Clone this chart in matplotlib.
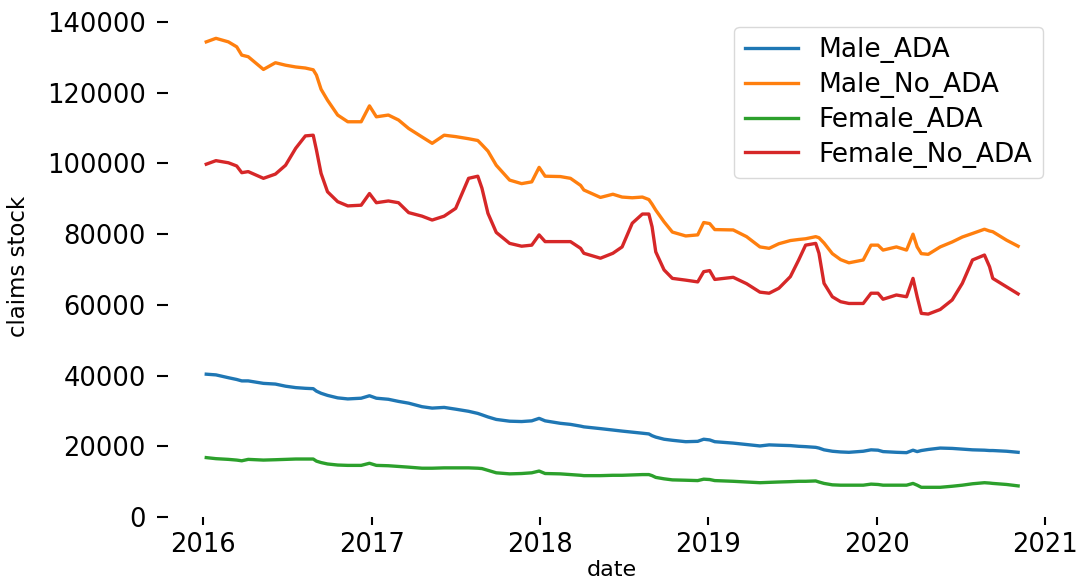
import matplotlib
matplotlib.use("Agg")
import matplotlib.pyplot as plt
import matplotlib.dates as mdates
import pandas as pd

# claims stock snapshots by gender / ADA status
dates = [
    "2016-01-08", "2016-01-29", "2016-02-25", "2016-03-14", "2016-03-25", "2016-04-08",
    "2016-05-11", "2016-06-06", "2016-06-28", "2016-07-20", "2016-08-10", "2016-08-27",
    "2016-09-03", "2016-09-13", "2016-09-27", "2016-10-19", "2016-11-10", "2016-12-09",
    "2016-12-27", "2017-01-11", "2017-02-06", "2017-02-28", "2017-03-22", "2017-04-20",
    "2017-05-12", "2017-06-07", "2017-07-02", "2017-07-30", "2017-08-19", "2017-08-28",
    "2017-09-10", "2017-09-28", "2017-10-27", "2017-11-22", "2017-12-14", "2017-12-30",
    "2018-01-12", "2018-02-14", "2018-03-08", "2018-03-30", "2018-04-06", "2018-05-12",
    "2018-06-08", "2018-06-28", "2018-07-20", "2018-08-11", "2018-08-25", "2018-09-01",
    "2018-09-09", "2018-09-27", "2018-10-15", "2018-11-13", "2018-12-09", "2018-12-22",
    "2019-01-04", "2019-01-15", "2019-02-24", "2019-03-25", "2019-04-23", "2019-05-13",
    "2019-06-03", "2019-06-28", "2019-07-16", "2019-07-31", "2019-08-22", "2019-08-29",
    "2019-09-09", "2019-09-27", "2019-10-15", "2019-11-02", "2019-12-03", "2019-12-20",
    "2020-01-04", "2020-01-15", "2020-02-13", "2020-03-06", "2020-03-20", "2020-03-29",
    "2020-04-07", "2020-04-22", "2020-05-18", "2020-06-13", "2020-07-05", "2020-07-27",
    "2020-08-22", "2020-09-02", "2020-09-09", "2020-10-09", "2020-11-03",
]

male_ada = [
    40400, 40200, 39400, 38900, 38500, 38500, 37800, 37600, 37000, 36600, 36400, 36300,
    35600, 35000, 34400, 33700, 33400, 33600, 34300, 33600, 33300, 32700, 32200, 31200,
    30800, 31000, 30500, 29900, 29300, 28900, 28300, 27600, 27100, 27000, 27200, 27900,
    27200, 26500, 26200, 25700, 25500, 25000, 24600, 24300, 24000, 23700, 23500, 23000,
    22600, 22000, 21700, 21300, 21400, 22000, 21800, 21300, 20900, 20500, 20100, 20400,
    20300, 20200, 20000, 19900, 19700, 19500, 19000, 18600, 18400, 18300, 18600, 19000,
    18900, 18500, 18300, 18200, 18900, 18500, 18800, 19100, 19500, 19400, 19200, 19000,
    18900, 18800, 18800, 18600, 18300,
]

male_no_ada = [
    134400, 135400, 134400, 133000, 130650, 130200, 126600, 128500, 127800, 127300, 127000, 126500,
    125000, 121000, 117900, 113700, 111800, 111800, 116300, 113200, 113700, 112300, 109900, 107500,
    105700, 108000, 107600, 107000, 106500, 105300, 103500, 99500, 95300, 94300, 94800, 98900,
    96400, 96300, 95800, 93800, 92500, 90400, 91300, 90500, 90300, 90500, 89800, 88500,
    86800, 83500, 80600, 79500, 79800, 83300, 83000, 81300, 81200, 79300, 76400, 76000,
    77300, 78200, 78500, 78700, 79300, 79000, 77500, 74500, 72800, 71900, 72700, 76900,
    76900, 75500, 76400, 75500, 80000, 76400, 74500, 74300, 76400, 77800, 79200, 80200,
    81400, 80900, 80700, 78300, 76600,
]

female_ada = [
    16800, 16500, 16300, 16100, 15900, 16300, 16100, 16200, 16300, 16400, 16400, 16400,
    15800, 15400, 15000, 14700, 14600, 14600, 15200, 14600, 14500, 14300, 14100, 13800,
    13800, 13900, 13900, 13900, 13800, 13700, 13200, 12500, 12200, 12300, 12500, 13000,
    12300, 12200, 12000, 11800, 11700, 11700, 11800, 11800, 11900, 12000, 12000, 11700,
    11200, 10800, 10500, 10400, 10300, 10700, 10600, 10300, 10100, 9900, 9700, 9800,
    9900, 10000, 10100, 10100, 10200, 9900, 9500, 9100, 9000, 9000, 9000, 9300,
    9200, 9000, 9000, 9000, 9500, 9000, 8400, 8400, 8400, 8700, 9000, 9400,
    9700, 9600, 9500, 9200, 8800,
]

female_no_ada = [
    99800, 100800, 100200, 99300, 97400, 97700, 95800, 97000, 99500, 104300, 107800, 108000,
    103800, 97200, 92000, 89200, 88000, 88200, 91500, 88900, 89400, 88900, 86100, 85100,
    84000, 85100, 87300, 95800, 96400, 93000, 85900, 80500, 77400, 76600, 76900, 79800,
    77900, 77900, 77900, 76000, 74600, 73200, 74600, 76400, 83100, 85700, 85700, 82100,
    75000, 69900, 67500, 67000, 66500, 69400, 69700, 67200, 67800, 66000, 63600, 63300,
    64700, 68000, 72700, 76900, 77400, 74600, 66100, 62300, 60900, 60400, 60400, 63300,
    63300, 61600, 62800, 62300, 67500, 62300, 57600, 57400, 58700, 61400, 66100, 72700,
    74100, 70800, 67500, 65100, 63100,
]

df = pd.DataFrame({
    "Male_ADA": male_ada,
    "Male_No_ADA": male_no_ada,
    "Female_ADA": female_ada,
    "Female_No_ADA": female_no_ada,
}, index=pd.to_datetime(dates))

fig = plt.figure(figsize=(10.82, 5.85), dpi=100)
ax = fig.add_axes([168 / 1082, 68 / 585, 887 / 1082, 502 / 585])

for col in df.columns:
    ax.plot(df.index, df[col], label=col, linewidth=2.4)

ax.set_xlim(pd.Timestamp("2015-10-17"), pd.Timestamp("2021-01-22"))
ax.set_ylim(0, 142000)
ax.set_yticks(range(0, 140001, 20000))
ax.xaxis.set_major_locator(mdates.YearLocator())
ax.xaxis.set_major_formatter(mdates.DateFormatter("%Y"))

for s in ax.spines.values():
    s.set_visible(False)
ax.tick_params(axis="y", labelsize=18.5, length=8, width=1.5, pad=8)
ax.tick_params(axis="x", labelsize=18.5, length=6, width=1.5, pad=5)

ax.set_xlabel("date", fontsize=16, labelpad=1)
ax.set_ylabel("claims stock", fontsize=16.5, labelpad=12)

leg = ax.legend(loc="upper right", fontsize=19, frameon=True,
                labelspacing=0.33, borderaxespad=0.45)
leg.get_frame().set_edgecolor("#d0d0d0")

fig.savefig("out.png", dpi=100)
